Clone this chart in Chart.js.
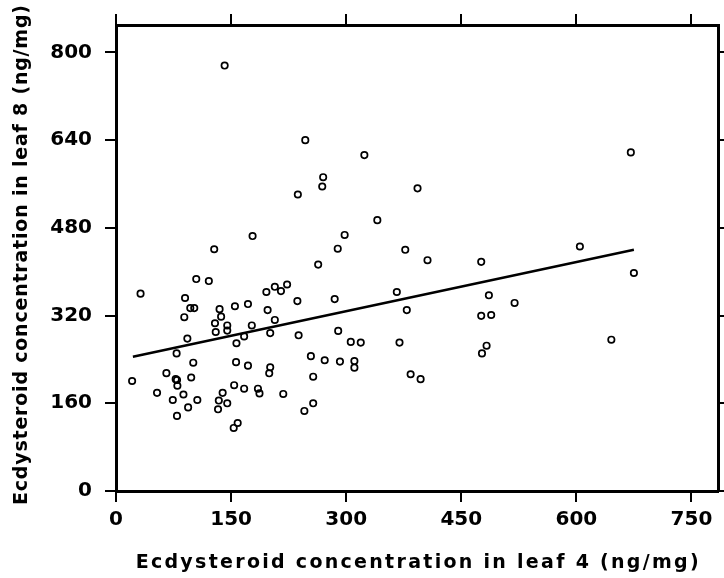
<!DOCTYPE html>
<html>
<head>
<meta charset="utf-8">
<script src="https://cdn.jsdelivr.net/npm/chart.js@4"></script>
<style>
  html, body { margin: 0; padding: 0; background: #fff; }
  #wrap { width: 724px; height: 578px; }
</style>
</head>
<body>
<div id="wrap"><canvas id="chart" width="724" height="578"></canvas></div>
<script>
// ecdysteroid in leaf 4 (x) vs leaf 8 (y), ng/mg
const leaf4 = [
  178, 128, 263.5, 104.6, 121, 32, 90, 196, 207, 215,
  223, 236.4, 96.8, 102, 89, 135, 137, 155, 172, 197.6,
  207, 129, 130, 145, 145, 177, 167, 201, 238, 93,
  157, 79, 254, 100.7, 156.5, 172, 201, 199.7, 257, 65.7,
  77.8, 79.5, 80, 98, 21, 53.5, 74, 87.9, 106, 94,
  79.5, 139, 134, 133, 145, 154, 167, 185, 187, 218,
  245.5, 257, 158.6, 153.4, 393, 340.6, 377, 406, 476, 366,
  486, 519.5, 379, 476, 489, 319, 369.5, 483, 477, 384,
  397, 671, 604.6, 675, 645.6, 285, 289.6, 306, 272, 291.9,
  310.7, 310.7, 141.6, 246.7, 323.7, 270, 268.8, 237, 298, 289
];
const leaf8 = [
  465, 441, 413, 386.6, 383, 360, 352, 363, 372.5, 364.6,
  376.7, 346.4, 333.6, 333.6, 317, 331.7, 318, 337, 341, 330,
  312, 306, 290, 302, 292.6, 302, 282, 288, 284, 278,
  269.5, 251, 246, 234, 235, 228.6, 225.6, 214.7, 208.5, 215,
  204, 202.5, 192, 207, 200.6, 179, 166, 176, 166, 152.5,
  137, 179, 165, 149, 160, 193, 186.6, 186.6, 178, 177,
  146, 160, 124, 115, 552, 494, 440, 421, 418, 363,
  357, 343, 330, 319.5, 321, 270.7, 270.7, 265, 251, 213,
  204, 617.6, 446, 397.6, 276, 350, 292, 272, 238.5, 236,
  237, 225, 776, 640, 612.7, 572.4, 555.4, 540.8, 467, 442
];

// fitted line end points
const fitX = [22, 675];
const fitY = [245, 440];

const xTicks = [0, 150, 300, 450, 600, 750];
const yTicks = [0, 160, 320, 480, 640, 800];

const xTitle = "Ecdysteroid concentration in leaf 4 (ng/mg)";
const yTitle = "Ecdysteroid concentration in leaf 8 (ng/mg)";

const points = leaf4.map((x, i) => ({ x, y: leaf8[i] }));
const fitLine = fitX.map((x, i) => ({ x, y: fitY[i] }));

const tickFont = { family: "DejaVu Sans", size: 20, weight: "bold" };

function fixed(size) {
  return scale => {
    if (scale.isHorizontal()) scale.height = size;
    else scale.width = size;
  };
}

function axisBase(min, max, ticks) {
  return {
    type: "linear",
    min, max,
    afterBuildTicks: s => { s.ticks = ticks.map(v => ({ value: v })); },
    border: { display: true, color: "#000", width: 3 },
    grid: { display: true, drawOnChartArea: false, drawTicks: true, tickLength: 11, color: "#000", lineWidth: 2 }
  };
}

// the original titles are widely letter-spaced, so draw them by hand
function spacedText(ctx, text, cx, cy, width, angle) {
  ctx.save();
  ctx.translate(cx, cy);
  ctx.rotate(angle);
  ctx.font = "bold 19px 'DejaVu Sans'";
  ctx.fillStyle = "#000";
  ctx.textBaseline = "middle";
  ctx.textAlign = "left";
  const chars = [...text];
  const widths = chars.map(c => ctx.measureText(c).width);
  const natural = widths.reduce((a, b) => a + b, 0);
  const gap = (width - natural) / (chars.length - 1);
  let x = -width / 2;
  chars.forEach((c, i) => {
    ctx.fillText(c, x, 0);
    x += widths[i] + gap;
  });
  ctx.restore();
}

const titles = {
  id: "titles",
  afterDraw(chart) {
    const { ctx, chartArea: a } = chart;
    spacedText(ctx, xTitle, (a.left + a.right) / 2, chart.height - 15, 563, 0);
    spacedText(ctx, yTitle, 22, (a.top + a.bottom) / 2 - 3, 500, -Math.PI / 2);
  }
};

new Chart(document.getElementById("chart").getContext("2d"), {
  type: "scatter",
  data: {
    datasets: [
      {
        data: points,
        showLine: false,
        pointRadius: 3.2,
        pointBorderWidth: 1.7,
        pointBorderColor: "#000",
        pointBackgroundColor: "rgba(0,0,0,0)"
      },
      {
        data: fitLine,
        showLine: true,
        borderColor: "#000",
        borderWidth: 2.5,
        pointRadius: 0
      }
    ]
  },
  options: {
    responsive: false,
    animation: false,
    layout: { padding: 0 },
    plugins: { legend: { display: false }, tooltip: { enabled: false } },
    scales: {
      x: Object.assign(axisBase(0, 785, xTicks), {
        position: "bottom",
        afterFit: fixed(87),
        ticks: { color: "#000", font: tickFont, padding: 6 }
      }),
      y: Object.assign(axisBase(0, 850, yTicks), {
        position: "left",
        afterFit: fixed(116),
        ticks: { color: "#000", font: tickFont, padding: 13 }
      }),
      x2: Object.assign(axisBase(0, 785, xTicks), {
        position: "top",
        afterFit: fixed(25),
        ticks: { display: false }
      }),
      y2: Object.assign(axisBase(0, 850, yTicks), {
        position: "right",
        afterFit: fixed(3),
        ticks: { display: false }
      })
    }
  },
  plugins: [titles]
});
</script>
</body>
</html>
